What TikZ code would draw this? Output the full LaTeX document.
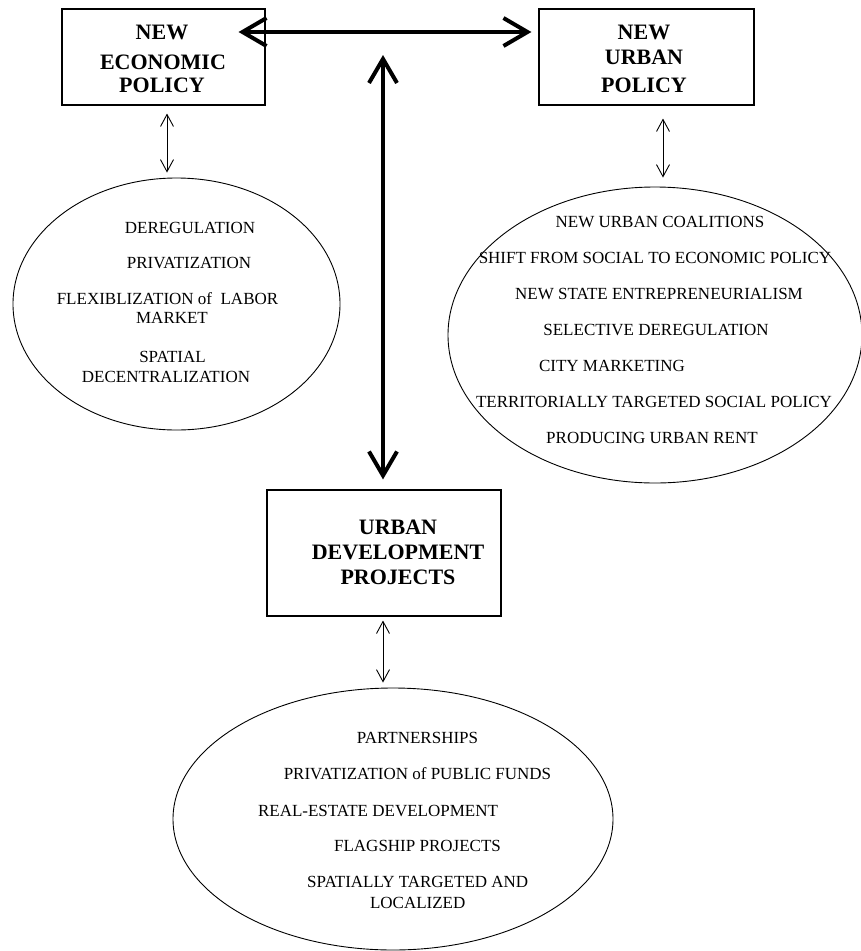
\documentclass[tikz,border=0pt]{standalone}
\usepackage{fontspec}
\setmainfont{Liberation Serif}
\usetikzlibrary{arrows.meta,shapes.geometric}
\begin{document}
\begin{tikzpicture}[x=1pt,y=-1pt,
  box/.style={draw, line width=1.1pt, rectangle, inner sep=0pt},
  oval/.style={draw, line width=0.9pt, ellipse, inner sep=0pt},
  rt/.style={font=\fontsize{17}{20}\selectfont, inner sep=0pt, anchor=base},
  bt/.style={font=\fontsize{22}{26}\selectfont\bfseries, inner sep=0pt, anchor=base},
  bigarrow/.style={line width=4pt, {Straight Barb[length=24pt,width=28pt]}-{Straight Barb[length=24pt,width=28pt]}},
  smallarrow/.style={line width=0.9pt, {Straight Barb[length=12pt,width=13pt]}-{Straight Barb[length=12pt,width=13pt]}}
]
\useasboundingbox (0,0) rectangle (861,951);

% boxes
\node[box, minimum width=203pt, minimum height=96pt] (b1) at (163.5,57) {};
\node[box, minimum width=215pt, minimum height=96pt] (b2) at (646.5,57) {};
\node[box, minimum width=234pt, minimum height=126pt] (b3) at (384,553) {};

% box texts
\node[bt] (b1a) at (162,39.3) {NEW};
\node[bt] (b1b) at (163,69.3) {ECONOMIC};
\node[bt] (b1c) at (162,92.3) {POLICY};
\node[bt] (b2a) at (644,39.3) {NEW};
\node[bt] (b2b) at (644,64.3) {URBAN};
\node[bt] (b2c) at (644,92.3) {POLICY};
\node[bt] (b3a) at (398,534.3) {URBAN};
\node[bt] (b3b) at (398,559.3) {DEVELOPMENT};
\node[bt] (b3c) at (398,584.3) {PROJECTS};

% ellipses
\node[oval, minimum width=327pt, minimum height=252pt] (e1) at (176.5,304) {};
\node[oval, minimum width=414pt, minimum height=296pt] (e2) at (655,335) {};
\node[oval, minimum width=440pt, minimum height=262pt] (e3) at (393,819) {};

% ellipse 1 texts
\node[rt] (t11) at (190,233.6) {DEREGULATION};
\node[rt] (t12) at (189,268.6) {PRIVATIZATION};
\node[rt] (t13) at (167.5,304.6) {FLEXIBLIZATION of\ \ LABOR};
\node[rt] (t14) at (172,323.6) {MARKET};
\node[rt] (t15) at (172.5,362.6) {SPATIAL};
\node[rt] (t16) at (166,382.6) {DECENTRALIZATION};

% ellipse 2 texts
\node[rt] (t21) at (660,227.6) {NEW URBAN COALITIONS};
\node[rt] (t22) at (655,263.6) {SHIFT FROM SOCIAL TO ECONOMIC POLICY};
\node[rt] (t23) at (659,299.6) {NEW STATE ENTREPRENEURIALISM};
\node[rt] (t24) at (656,335.6) {SELECTIVE DEREGULATION};
\node[rt] (t25) at (612,371.6) {CITY MARKETING};
\node[rt] (t26) at (654,407.6) {TERRITORIALLY TARGETED SOCIAL POLICY};
\node[rt] (t27) at (652,443.6) {PRODUCING URBAN RENT};

% ellipse 3 texts
\node[rt] (t31) at (417.5,743.6) {PARTNERSHIPS};
\node[rt] (t32) at (417.5,779.6) {PRIVATIZATION of PUBLIC FUNDS};
\node[rt] (t33) at (378,816.6) {REAL-ESTATE DEVELOPMENT};
\node[rt] (t34) at (417.5,851.6) {FLAGSHIP PROJECTS};
\node[rt] (t35) at (417.7,887.6) {SPATIALLY TARGETED AND};
\node[rt] (t36) at (417.7,908.6) {LOCALIZED};

% thick arrows
\draw[bigarrow] ([xshift=-27pt,yshift=25pt]b1.east) -- ([xshift=-7pt,yshift=25pt]b2.west);
\coordinate (vtop) at (383,55);
\draw[bigarrow] (vtop) -- ([xshift=-1pt,yshift=10pt]b3.north);

% small arrows
\draw[smallarrow] ([xshift=3.5pt,yshift=-8pt]b1.south) -- ([xshift=-9.5pt,yshift=5pt]e1.north);
\draw[smallarrow] ([xshift=16.5pt,yshift=-13pt]b2.south) -- ([xshift=8pt,yshift=9pt]e2.north);
\draw[smallarrow] ([xshift=-1pt,yshift=-4pt]b3.south) -- ([xshift=-10pt,yshift=5pt]e3.north);
\end{tikzpicture}
\end{document}
